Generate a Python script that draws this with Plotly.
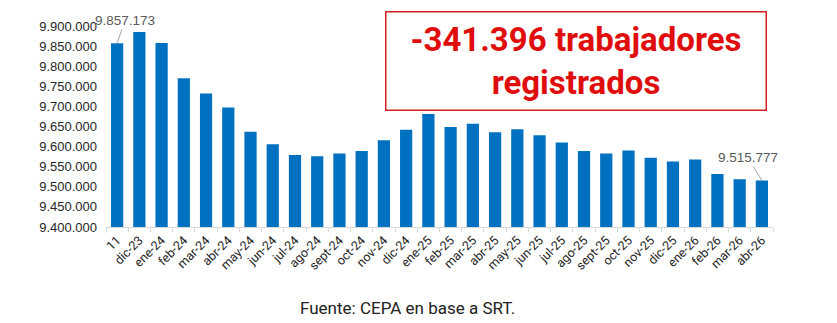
import plotly.graph_objects as go

categories = ["11", "dic-23", "ene-24", "feb-24", "mar-24", "abr-24", "may-24", "jun-24",
              "jul-24", "ago-24", "sept-24", "oct-24", "nov-24", "dic-24", "ene-25", "feb-25",
              "mar-25", "abr-25", "may-25", "jun-25", "jul-25", "ago-25", "sept-25", "oct-25",
              "nov-25", "dic-25", "ene-26", "feb-26", "mar-26", "abr-26"]
trabajadores = [9857173, 9885000, 9858000, 9770000, 9732000, 9697000, 9637000, 9606000,
                9579000, 9576000, 9583000, 9589000, 9616000, 9642000, 9681000, 9649000,
                9657000, 9636000, 9643000, 9628000, 9610000, 9589000, 9583000, 9590000,
                9572000, 9563000, 9568000, 9532000, 9519000, 9515777]
y_ticks = [9400000, 9450000, 9500000, 9550000, 9600000, 9650000, 9700000, 9750000,
           9800000, 9850000, 9900000]
titulo = "-341.396 trabajadores<br>registrados"
fuente = "Fuente: CEPA en base a SRT."

fig = go.Figure(go.Bar(x=categories, y=trabajadores, marker_color="#0070C0",
                       marker_line_width=0))

fig.update_layout(
    width=837, height=323,
    margin=dict(l=106, r=64, t=26, b=96),
    paper_bgcolor="white", plot_bgcolor="white",
    separators=",.",
    bargap=0.45,
    showlegend=False,
    font=dict(family="Roboto, Arial, sans-serif"),
)
fig.update_xaxes(
    type="category", tickangle=-45, tickson="boundaries",
    range=[-0.5, len(categories) - 0.5], autorange=False,
    ticks="outside", ticklen=4, tickcolor="#d9d9d9",
    showline=True, linecolor="#d9d9d9", linewidth=1,
    tickfont=dict(family="Roboto, Arial, sans-serif", size=12.5, color="#262626"),
    showgrid=False,
)
fig.update_yaxes(
    range=[9400000, 9900000], autorange=False, tickvals=y_ticks, tickformat=",d",
    showgrid=False, showline=False, zeroline=False, ticks="",
    ticklabelstandoff=8,
    tickfont=dict(family="Arial, Liberation Sans, sans-serif", size=13, color="#262626"),
)

# data labels with leader lines (category index positions)
first_i, last_i = 0, len(categories) - 1
fig.add_annotation(x=first_i, y=trabajadores[first_i], text="9.857.173",
                   showarrow=True, arrowhead=0, arrowwidth=1, arrowcolor="#a6a6a6",
                   ax=8, ay=-23, font=dict(family="Arial, sans-serif", size=13.5, color="#595959"))
fig.add_annotation(x=last_i, y=trabajadores[last_i], text="9.515.777",
                   showarrow=True, arrowhead=0, arrowwidth=1, arrowcolor="#a6a6a6",
                   ax=-14, ay=-23, font=dict(family="Arial, sans-serif", size=13.5, color="#595959"))

# highlighted box
fig.add_annotation(xref="paper", yref="paper", x=0.705, y=0.828,
                   xanchor="center", yanchor="middle", showarrow=False,
                   text="<b>" + titulo + "</b>",
                   font=dict(family="Roboto, sans-serif", size=33, color="#e00d0d"),
                   bordercolor="#d42020", borderwidth=1.5, borderpad=1,
                   bgcolor="white", width=377, height=95, align="center")

fig.add_annotation(xref="paper", yref="paper", x=0.452, y=-0.403,
                   xanchor="center", yanchor="middle", showarrow=False,
                   text=fuente,
                   font=dict(family="Roboto, sans-serif", size=17, color="#222222"))

fig.write_html("out.html")
